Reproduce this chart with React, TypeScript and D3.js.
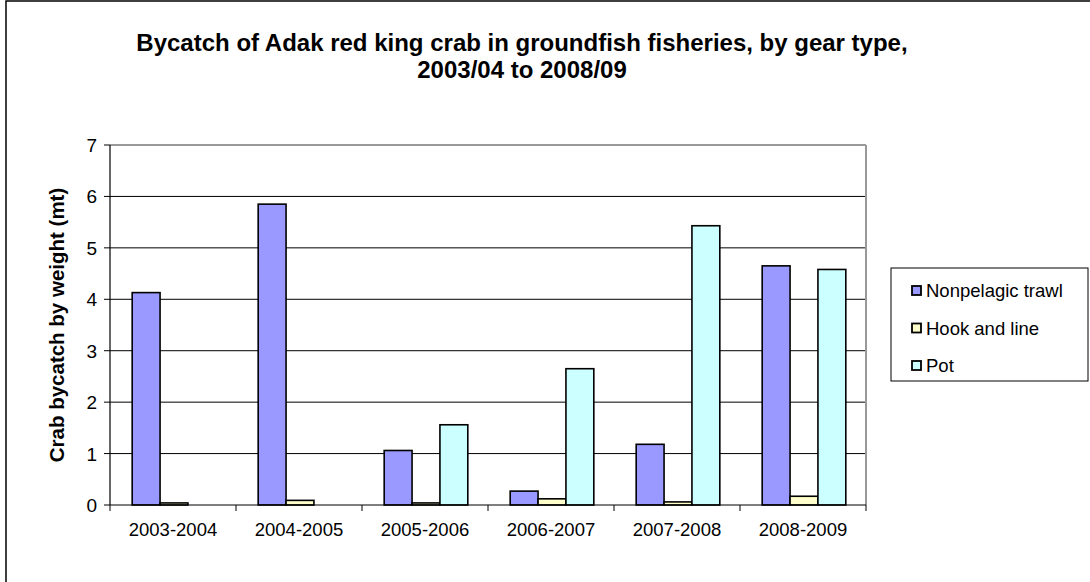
import React from "react";
import * as d3 from "d3";

const categories = ["2003-2004", "2004-2005", "2005-2006", "2006-2007", "2007-2008", "2008-2009"];
const seriesNames = ["Nonpelagic trawl", "Hook and line", "Pot"];
const nonpelagicTrawl = [4.13, 5.85, 1.06, 0.27, 1.18, 4.65];
const hookAndLine = [0.04, 0.09, 0.04, 0.12, 0.06, 0.17];
const pot = [0, 0, 1.56, 2.65, 5.43, 4.58];
const yTicks = [0, 1, 2, 3, 4, 5, 6, 7];
const colors = ["#9999FF", "#FFFFCC", "#CCFFFF"];

const W = 1090, H = 582;
const plot = { left: 110, right: 866, top: 145, bottom: 505 };
const FONT = "'Liberation Sans', Arial, sans-serif";

export default function App() {
  const series = [nonpelagicTrawl, hookAndLine, pot];
  const x = d3.scaleBand<string>().domain(categories).range([plot.left, plot.right]).paddingInner(0).paddingOuter(0);
  const inner = d3.scaleBand<number>().domain([0, 1, 2]).range([1, x.bandwidth() + 1]).paddingOuter(0.76).paddingInner(0);
  const y = d3.scaleLinear().domain([0, 7]).range([plot.bottom, plot.top]);

  return (
    <svg width={W} height={H} style={{ position: "absolute", left: 0, top: 0, background: "#fff" }} fontFamily={FONT}>
      <rect x={6} y={1} width={W + 10} height={H + 10} fill="#fff" stroke="#000" strokeWidth={1.5} />
      <text x={522} y={51} textAnchor="middle" fontSize={24} fontWeight="bold">
        Bycatch of Adak red king crab in groundfish fisheries, by gear type,
      </text>
      <text x={522} y={78} textAnchor="middle" fontSize={24} fontWeight="bold">
        2003/04 to 2008/09
      </text>
      {/* gridlines */}
      {yTicks.filter((t) => t > 0 && t < 7).map((t) => (
        <line key={t} x1={plot.left} x2={plot.right} y1={y(t)} y2={y(t)} stroke="#000" strokeWidth={1} />
      ))}
      <line x1={plot.left} x2={plot.right} y1={y(7)} y2={y(7)} stroke="#999" strokeWidth={2} />
      <line x1={plot.right} x2={plot.right} y1={y(7)} y2={plot.bottom} stroke="#999" strokeWidth={2} />
      {/* bars */}
      {categories.map((c, i) => (
        <g key={c}>
          {series.map((s, j) => {
            const bx = (x(c) as number) + (inner(j) as number);
            const by = y(s[i]);
            return s[i] > 0 ? (
              <rect key={j} x={bx} y={by} width={inner.bandwidth()} height={plot.bottom - by}
                fill={colors[j]} stroke="#000" strokeWidth={1.6} />
            ) : null;
          })}
        </g>
      ))}
      {/* axes */}
      <line x1={plot.left} x2={plot.left} y1={y(7)} y2={plot.bottom} stroke="#000" strokeWidth={1.2} />
      <line x1={plot.left} x2={plot.right} y1={plot.bottom} y2={plot.bottom} stroke="#000" strokeWidth={1.2} />
      {yTicks.map((t) => (
        <g key={t}>
          <line x1={plot.left - 6} x2={plot.left} y1={y(t)} y2={y(t)} stroke="#000" strokeWidth={1} />
          <text x={plot.left - 13} y={y(t) + 7} textAnchor="end" fontSize={19} fill="#000">{t}</text>
        </g>
      ))}
      {categories.map((c) => (
        <line key={c} x1={x(c)} x2={x(c)} y1={plot.bottom} y2={plot.bottom + 6} stroke="#000" strokeWidth={1} />
      ))}
      <line x1={plot.right} x2={plot.right} y1={plot.bottom} y2={plot.bottom + 6} stroke="#000" strokeWidth={1} />
      {categories.map((c) => (
        <text key={c} x={(x(c) as number) + x.bandwidth() / 2} y={536} textAnchor="middle" fontSize={18.5} fill="#000">{c}</text>
      ))}
      <text transform={`translate(64,${(plot.top + plot.bottom) / 2}) rotate(-90)`} textAnchor="middle" fontSize={20.5} fontWeight="bold">
        Crab bycatch by weight  (mt)
      </text>
      {/* legend */}
      <rect x={891} y={268} width={197} height={113} fill="#fff" stroke="#000" strokeWidth={1} />
      {seriesNames.map((n, j) => (
        <g key={n}>
          <rect x={912} y={286 + j * 37.5} width={9} height={9} fill={colors[j]} stroke="#000" strokeWidth={1.8} />
          <text x={926} y={297 + j * 37.5} fontSize={18.5} fill="#000">{n}</text>
        </g>
      ))}
    </svg>
  );
}
